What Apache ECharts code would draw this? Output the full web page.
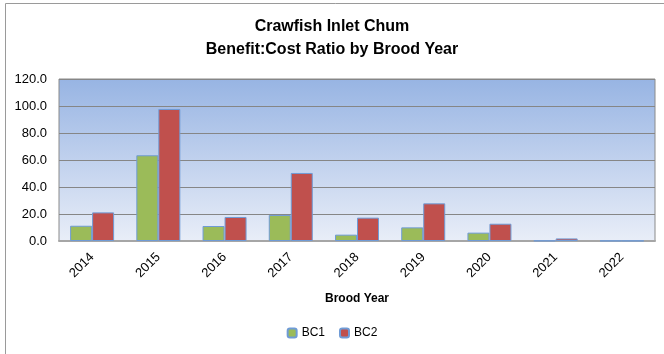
<!DOCTYPE html>
<html>
<head>
<meta charset="utf-8">
<script src="https://cdn.jsdelivr.net/npm/echarts@6/dist/echarts.min.js"></script>
<style>
  html, body { margin: 0; padding: 0; background: #fff; }
  #main { width: 664px; height: 354px; }
</style>
</head>
<body>
<div id="main"></div>
<script>
var years = ['2014', '2015', '2016', '2017', '2018', '2019', '2020', '2021', '2022'];
var bc1 = [11.3, 63.5, 11.1, 19.3, 4.7, 10.1, 6.2, 0.3, 0.2];
var bc2 = [21.2, 97.8, 17.8, 50.4, 17.3, 27.9, 12.8, 1.9, 0.2];
var yTicks = [0, 20, 40, 60, 80, 100, 120];

var font = 'Liberation Sans, Arial, sans-serif';
var myChart = echarts.init(document.getElementById('main'));
var option = {
    animation: false,
    backgroundColor: '#fff',
    title: {
        text: 'Crawfish Inlet Chum\nBenefit:Cost Ratio by Brood Year',
        left: 'center',
        top: 10,
        textStyle: { fontFamily: font, fontSize: 16, fontWeight: 'bold', color: '#000', lineHeight: 23 }
    },
    legend: {
        bottom: 10,
        left: 'center',
        itemWidth: 9,
        itemHeight: 9,
        itemGap: 14,
        textStyle: { fontFamily: font, fontSize: 12, color: '#000' },
        data: ['BC1', 'BC2']
    },
    grid: {
        left: 59,
        right: 9,
        top: 79,
        bottom: 113,
        show: true,
        borderWidth: 1,
        borderColor: '#8a8a8a',
        backgroundColor: new echarts.graphic.LinearGradient(0, 0, 0, 1, [
            { offset: 0, color: '#97b4e3' },
            { offset: 1, color: '#e9eef8' }
        ])
    },
    xAxis: {
        type: 'category',
        data: years,
        name: 'Brood Year',
        nameLocation: 'middle',
        nameGap: 52,
        nameTextStyle: { fontFamily: font, fontSize: 12, fontWeight: 'bold', color: '#000' },
        axisLine: { lineStyle: { color: '#a6a6a6', width: 2 } },
        axisTick: { show: false },
        axisLabel: { rotate: 45, fontFamily: font, fontSize: 13, color: '#000', margin: 14 }
    },
    yAxis: {
        type: 'value',
        min: yTicks[0],
        max: yTicks[yTicks.length - 1],
        interval: 20,
        axisLine: { show: false },
        axisTick: { show: false },
        splitLine: { lineStyle: { color: '#868686', width: 1 } },
        axisLabel: {
            fontFamily: font, fontSize: 13, color: '#000', margin: 12,
            formatter: function (v) { return v.toFixed(1); }
        }
    },
    series: [
        {
            name: 'BC1',
            type: 'bar',
            data: bc1,
            barWidth: 22,
            barGap: '0%',
            itemStyle: { color: '#9bbb59', borderColor: '#6f9bd6', borderWidth: 1 }
        },
        {
            name: 'BC2',
            type: 'bar',
            data: bc2,
            barWidth: 22,
            itemStyle: { color: '#c0504d', borderColor: '#6f9bd6', borderWidth: 1 }
        }
    ],
    graphic: [{
        type: 'rect',
        shape: { x: 5.5, y: 3.5, width: 700, height: 400 },
        style: { fill: 'none', stroke: '#9a9a9a', lineWidth: 1 },
        silent: true
    }]
};
myChart.setOption(option);
</script>
</body>
</html>
